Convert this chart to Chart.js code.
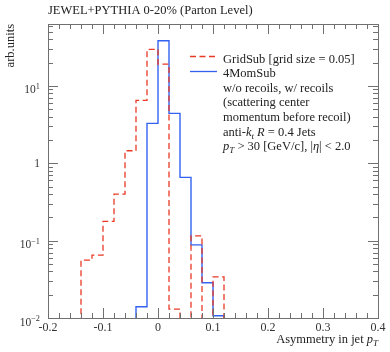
<!DOCTYPE html>
<html>
<head>
<meta charset="utf-8">
<script src="https://cdn.jsdelivr.net/npm/chart.js@4.4.1/dist/chart.umd.min.js"></script>
<style>
  html, body { margin: 0; padding: 0; background: #fff; }
  #wrap { width: 390px; height: 352px; }
</style>
</head>
<body>
<div id="wrap"><canvas id="myChart" width="390" height="352"></canvas></div>
<script>
// bin edges of the asymmetry histogram (width 0.02)
const binEdges = [-0.14, -0.12, -0.10, -0.08, -0.06, -0.04, -0.02, 0.00, 0.02, 0.04, 0.06, 0.08, 0.10, 0.12];
// GridSub [grid size = 0.05]
const gridSub = [0.056, 0.065, 0.177, 0.40, 1.45, 6.5, 29.6, 19.1, 0.013, 0, 0.115, 0, 0.034];
// 4MomSub
const fourMomSub = [0, 0, 0, 0, 0, 0.014, 3.27, 38.3, 4.41, 0.657, 0.088, 0.0286, 0.0107];

const xTicks = [-0.2, -0.1, 0, 0.1, 0.2, 0.3, 0.4];
const xTickLabels = ['-0.2', '-0.1', '0', '0.1', '0.2', '0.3', '0.4'];
const yTicks = [0.01, 0.1, 1, 10];
const yTickLabels = [['10', '−2'], ['10', '−1'], ['1', ''], ['10', '1']];

const RED = 'rgb(232,58,38)';
const BLUE = 'rgb(52,98,240)';
const FONT = '"Liberation Serif", "DejaVu Serif", serif';
const Y_MIN = 0.01, Y_MAX = 63;
// empty bins can't sit on a log axis: send them below the frame, they get clipped
const EMPTY = Y_MIN / 20;

// histogram -> points for a stepped line (leading / trailing empty bins dropped)
function steps(vals) {
  let first = vals.findIndex(v => v > 0);
  let last = vals.length - 1;
  while (last > 0 && !(vals[last] > 0)) last--;
  const pts = [{x: binEdges[first], y: EMPTY}];
  for (let i = first; i <= last; i++) pts.push({x: binEdges[i], y: vals[i] > 0 ? vals[i] : EMPTY});
  pts.push({x: binEdges[last + 1], y: EMPTY});
  return pts;
}

// draws text made of parts: [text, italic, shift] shift 1 = subscript, -1 = superscript
function rich(ctx, x, y, parts, size, align) {
  const fontOf = (p) => (p[1] ? 'italic ' : '') + (p[2] ? size * 0.72 : size) + 'px ' + FONT;
  let w = 0;
  parts.forEach(p => { ctx.font = fontOf(p); w += ctx.measureText(p[0]).width; });
  let cx = align === 'right' ? x - w : x;
  ctx.textAlign = 'left';
  ctx.textBaseline = 'alphabetic';
  parts.forEach(p => {
    ctx.font = fontOf(p);
    const dy = p[2] === 1 ? size * 0.25 : p[2] === -1 ? -size * 0.4 : 0;
    ctx.fillText(p[0], cx, y + dy);
    cx += ctx.measureText(p[0]).width;
  });
}

const axisFrame = {
  id: 'axisFrame',
  afterDatasetsDraw(chart) {
    const {ctx, chartArea: a, scales: {x, y}} = chart;
    ctx.save();
    ctx.strokeStyle = '#707070';
    ctx.lineWidth = 1;
    const seg = (x1, y1, x2, y2) => { ctx.beginPath(); ctx.moveTo(x1, y1); ctx.lineTo(x2, y2); ctx.stroke(); };

    // x ticks, minor every 0.02
    for (let i = -10; i <= 20; i++) {
      const px = Math.round(x.getPixelForValue(i * 0.02)) + 0.5;
      const len = i % 5 === 0 ? 10 : 5;
      seg(px, a.bottom, px, a.bottom - len);
      seg(px, a.top, px, a.top + len);
    }
    // y ticks, log
    for (let e = -2; e <= 1; e++) {
      for (let m = 1; m <= 9; m++) {
        const v = m * Math.pow(10, e);
        if (v > y.max) break;
        const py = Math.round(y.getPixelForValue(v)) + 0.5;
        const len = m === 1 ? 10 : 5;
        seg(a.left, py, a.left + len, py);
        seg(a.right, py, a.right - len, py);
      }
    }
    ctx.strokeRect(Math.round(a.left) + 0.5, Math.round(a.top) + 0.5, Math.round(a.width), Math.round(a.height));

    // tick labels
    ctx.fillStyle = '#333';
    ctx.font = '12px ' + FONT;
    ctx.textAlign = 'center';
    ctx.textBaseline = 'alphabetic';
    xTicks.forEach((v, i) => ctx.fillText(xTickLabels[i], x.getPixelForValue(v), a.bottom + 13));
    yTicks.forEach((v, i) => {
      const [base, exp] = yTickLabels[i];
      const py = y.getPixelForValue(v);
      if (exp) rich(ctx, 40, py + 7.5, [[base, 0, 0], [exp, 0, -1]], 11.5, 'right');
      else rich(ctx, 40, py + 4, [[base, 0, 0]], 11.5, 'right');
    });
    ctx.restore();
  }
};

const texts = {
  id: 'texts',
  afterDraw(chart) {
    const {ctx, chartArea: a} = chart;
    ctx.save();
    ctx.fillStyle = '#222';
    // title
    rich(ctx, a.left, 14, [['JEWEL+PYTHIA 0-20% (Parton Level)', 0, 0]], 12.5, 'left');
    // axis titles
    rich(ctx, a.right, 343, [['Asymmetry in jet ', 0, 0], ['p', 1, 0], ['T', 1, 1]], 12.5, 'right');
    ctx.save();
    ctx.translate(14, a.top);
    ctx.rotate(-Math.PI / 2);
    rich(ctx, 0, 0, [['arb.units', 0, 0]], 12.5, 'right');
    ctx.restore();

    // legend
    const lx = 190, tx = 223;
    ctx.lineWidth = 1.3;
    ctx.strokeStyle = RED;
    ctx.setLineDash([6, 3.5]);
    ctx.beginPath(); ctx.moveTo(lx, 56.5); ctx.lineTo(lx + 27, 56.5); ctx.stroke();
    ctx.setLineDash([]);
    ctx.strokeStyle = BLUE;
    ctx.beginPath(); ctx.moveTo(lx, 71.5); ctx.lineTo(lx + 27, 71.5); ctx.stroke();

    const lines = [
      [['GridSub [grid size = 0.05]', 0, 0]],
      [['4MomSub', 0, 0]],
      [['w/o recoils, w/ recoils', 0, 0]],
      [['(scattering center', 0, 0]],
      [['momentum before recoil)', 0, 0]],
      [['anti-', 0, 0], ['k', 1, 0], ['t', 1, 1], [' ', 0, 0], ['R', 1, 0], [' = 0.4 Jets', 0, 0]],
      [['p', 1, 0], ['T', 1, 1], [' > 30 [GeV/c], |', 0, 0], ['η', 1, 0], ['| < 2.0', 0, 0]]
    ];
    lines.forEach((l, i) => rich(ctx, tx, 62.5 + i * 14.6, l, 12.5, 'left'));
    ctx.restore();
  }
};

const ctx = document.getElementById('myChart').getContext('2d');
const myChart = new Chart(ctx, {
  type: 'line',
  data: {
    datasets: [{
      label: 'GridSub [grid size = 0.05]',
      data: steps(gridSub),
      borderColor: RED,
      borderWidth: 1.3,
      borderDash: [6, 3.5],
      stepped: true,
      pointRadius: 0,
      fill: false,
      clip: 0
    }, {
      label: '4MomSub',
      data: steps(fourMomSub),
      borderColor: BLUE,
      borderWidth: 1.4,
      stepped: true,
      pointRadius: 0,
      fill: false,
      clip: 0
    }]
  },
  options: {
    responsive: false,
    animation: false,
    layout: { padding: { left: 48, top: 24, right: 12, bottom: 34 } },
    plugins: {
      legend: { display: false },
      title: { display: false },
      tooltip: { enabled: false }
    },
    scales: {
      x: { type: 'linear', min: -0.2, max: 0.4, display: false },
      y: { type: 'logarithmic', min: Y_MIN, max: Y_MAX, display: false }
    }
  },
  plugins: [axisFrame, texts]
});
</script>
</body>
</html>
